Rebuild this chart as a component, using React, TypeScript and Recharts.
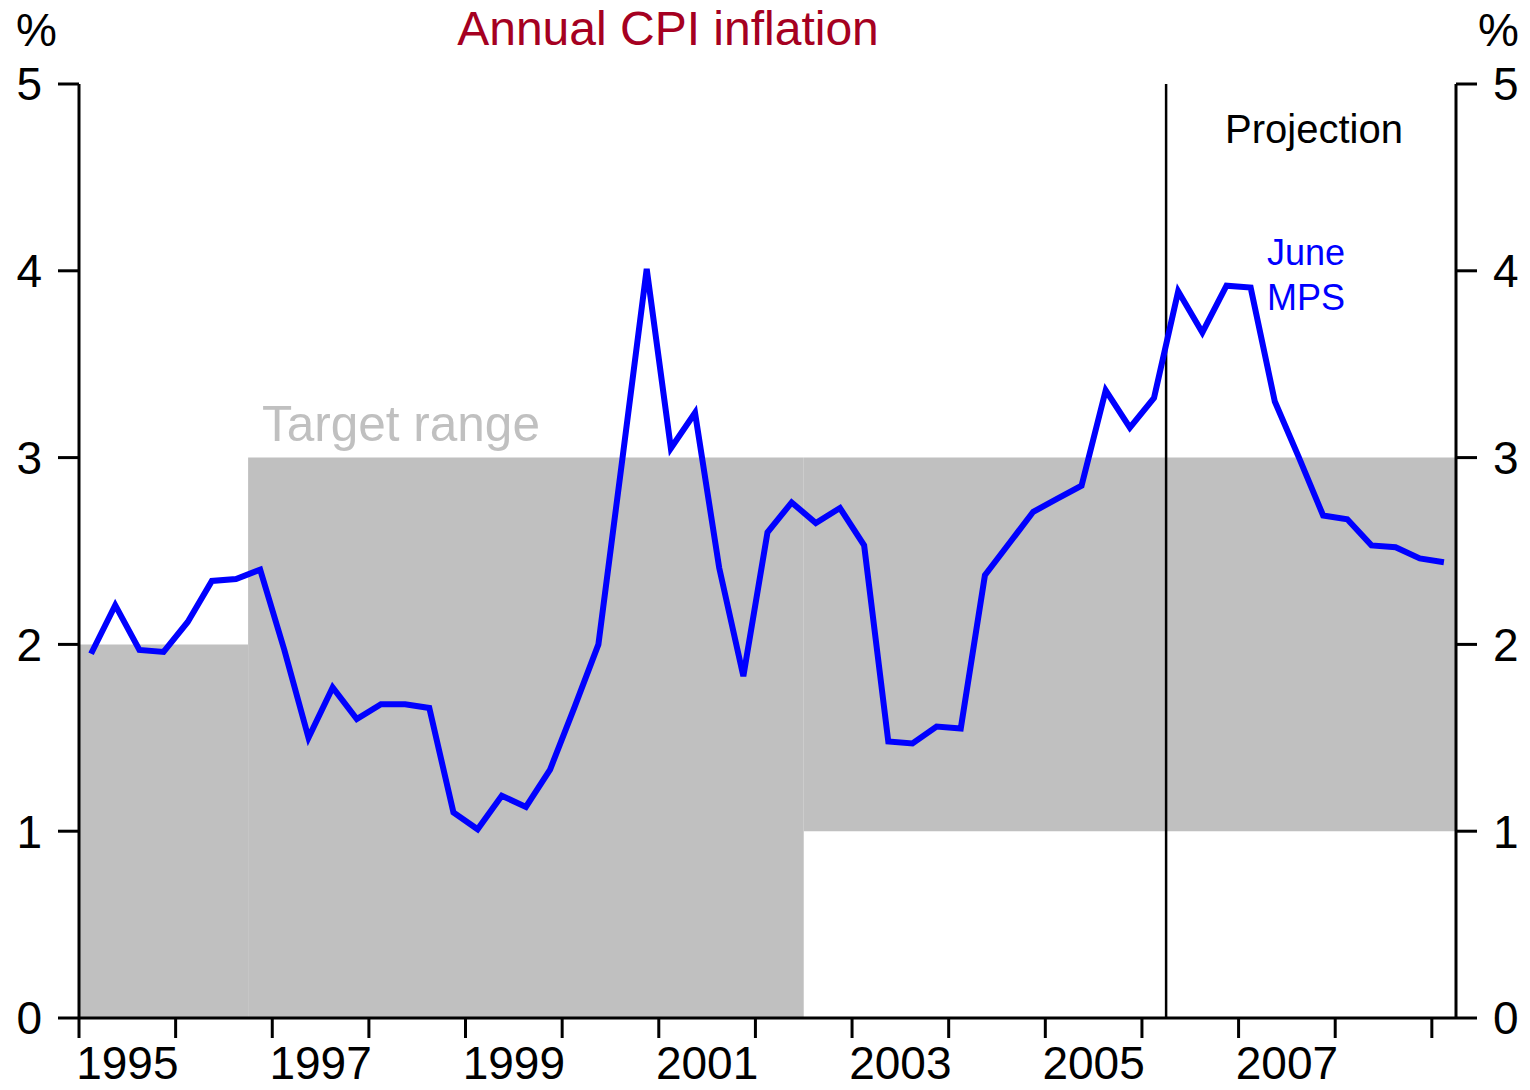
import { ComposedChart, Line, XAxis, YAxis, ReferenceArea, ReferenceLine } from "recharts";

// Annual CPI inflation, quarterly, starting 1995 Q1 (June MPS projection from 2006 Q2)
const startYear = 1995;
const cpiValues = [
    1.95, 2.21, 1.97, 1.96, 2.12, 2.34, 2.35, 2.40, 1.97, 1.50, 1.77, 1.60,
    1.68, 1.68, 1.66, 1.10, 1.01, 1.19, 1.13, 1.33, 1.66, 2.00, 3.00, 4.01,
    3.05, 3.24, 2.41, 1.83, 2.60, 2.76, 2.65, 2.73, 2.53, 1.48, 1.47, 1.56,
    1.55, 2.37, 2.54, 2.71, 2.78, 2.85, 3.36, 3.16, 3.32, 3.89, 3.67, 3.92,
    3.91, 3.30, 3.00, 2.69, 2.67, 2.53, 2.52, 2.46, 2.44,
];

// target range bands (start, end, low, high)
const targetStart = [1995, 1996.75, 2002.5];
const targetEnd = [1996.75, 2002.5, 2009.25];
const targetLow = [0, 0, 1];
const targetHigh = [2, 3, 3];

const projectionStart = 2006.25;
const xDomain = [1995, 2009.25];
const tickYears = [1995, 1996, 1997, 1998, 1999, 2000, 2001, 2002, 2003, 2004, 2005, 2006, 2007, 2008, 2009];
const labelYears = [1995, 1997, 1999, 2001, 2003, 2005, 2007];
const yTicks = [0, 1, 2, 3, 4, 5];

const data = cpiValues.map((v, i) => ({ t: startYear + (i + 0.5) / 4, cpi: v }));
const xTicks = [...tickYears, ...labelYears.map((y) => y + 0.5)].sort((a, b) => a - b);

const FONT = '"Liberation Sans", Arial, Helvetica, sans-serif';

const YearTick = ({ x, y, payload }: any) => {
    const v = payload.value;
    if (Number.isInteger(v)) {
        return <line x1={x} x2={x} y1={y} y2={y + 20} stroke="#000" strokeWidth={3} />;
    }
    const yr = v - 0.5;
    if (!labelYears.includes(yr)) return null;
    return (
        <text x={x} y={y + 61} textAnchor="middle" fontSize={46} fontFamily={FONT} fill="#000">
            {yr}
        </text>
    );
};

const tickStyle = { fontSize: 46, fill: "#000", fontFamily: FONT };

export default function App() {
    return (
        <div style={{ position: "absolute", left: 0, top: 0, width: 1530, height: 1090, background: "#fff", fontFamily: FONT }}>
            <ComposedChart width={1530} height={1090} data={data} margin={{ top: 84, right: 0, left: 0, bottom: 0 }}>
                {targetStart.map((s, i) => (
                    <ReferenceArea
                        key={i}
                        yAxisId="left"
                        x1={s}
                        x2={targetEnd[i]}
                        y1={targetLow[i]}
                        y2={targetHigh[i]}
                        fill="#c0c0c0"
                        fillOpacity={1}
                        stroke="none"
                    />
                ))}
                <XAxis
                    dataKey="t"
                    type="number"
                    domain={xDomain}
                    ticks={xTicks}
                    interval={0}
                    height={72}
                    tickSize={0}
                    tickMargin={0}
                    tickLine={false}
                    tick={<YearTick />}
                    axisLine={{ stroke: "#000", strokeWidth: 3 }}
                    allowDataOverflow
                />
                <YAxis
                    yAxisId="left"
                    domain={[0, 5]}
                    ticks={yTicks}
                    width={79}
                    tickSize={21}
                    tickMargin={16}
                    tick={tickStyle}
                    tickLine={{ stroke: "#000", strokeWidth: 3 }}
                    axisLine={{ stroke: "#000", strokeWidth: 3 }}
                />
                <YAxis
                    yAxisId="right"
                    orientation="right"
                    domain={[0, 5]}
                    ticks={yTicks}
                    width={74}
                    tickSize={21}
                    tickMargin={16}
                    tick={tickStyle}
                    tickLine={{ stroke: "#000", strokeWidth: 3 }}
                    axisLine={{ stroke: "#000", strokeWidth: 3 }}
                />
                <ReferenceLine yAxisId="left" x={projectionStart} stroke="#000" strokeWidth={2.5} />
                {/* invisible copy so the right axis gets its scale */}
                <Line
                    yAxisId="right"
                    type="linear"
                    dataKey="cpi"
                    stroke="none"
                    dot={false}
                    activeDot={false}
                    isAnimationActive={false}
                />
                <Line
                    yAxisId="left"
                    type="linear"
                    dataKey="cpi"
                    stroke="#0000ff"
                    strokeWidth={6}
                    strokeLinejoin="miter"
                    dot={false}
                    activeDot={false}
                    isAnimationActive={false}
                />
            </ComposedChart>

            <div style={{ position: "absolute", left: 0, top: 5, width: 1336, textAlign: "center", fontSize: 48, lineHeight: "48px", color: "#a50021" }}>
                Annual CPI inflation
            </div>
            <div style={{ position: "absolute", left: 16, top: 7, fontSize: 46, lineHeight: "46px", color: "#000" }}>%</div>
            <div style={{ position: "absolute", left: 1478, top: 7, fontSize: 46, lineHeight: "46px", color: "#000" }}>%</div>
            <div style={{ position: "absolute", left: 262, top: 399, fontSize: 49.5, lineHeight: "49.5px", color: "#c0c0c0" }}>
                Target range
            </div>
            <div style={{ position: "absolute", left: 1225, top: 109, fontSize: 40, lineHeight: "40px", color: "#000" }}>
                Projection
            </div>
            <div style={{ position: "absolute", left: 1267, top: 230, fontSize: 36, lineHeight: "45px", color: "#0000ff" }}>
                June
                <br />
                MPS
            </div>
        </div>
    );
}
